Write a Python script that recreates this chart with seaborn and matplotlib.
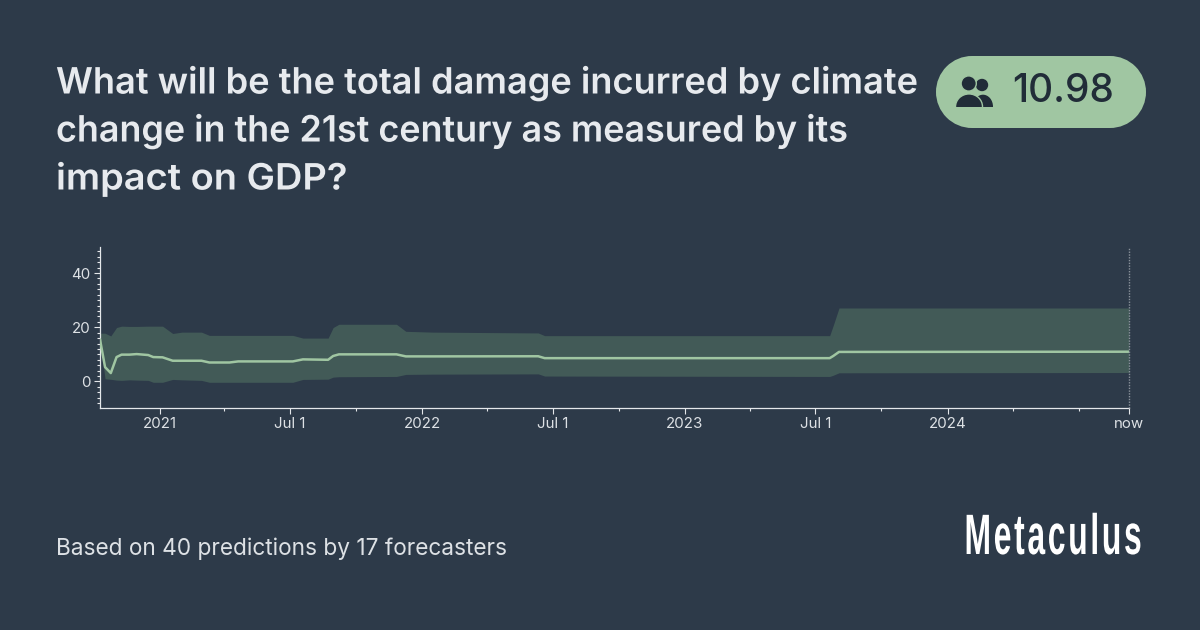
import matplotlib
matplotlib.use("Agg")
import matplotlib.pyplot as plt
import matplotlib.patheffects as pe
from matplotlib.patches import Circle, Ellipse, Rectangle
from matplotlib.ticker import MultipleLocator
from matplotlib.transforms import Affine2D
import pandas as pd
import seaborn as sns

TITLE = ["What will be the total damage incurred by climate",
         "change in the 21st century as measured by its",
         "impact on GDP?"]
FOOTER = "Based on 40 predictions by 17 forecasters"
BADGE = "10.98"
LOGO = "Metaculus"

dates = ["2020-10-10", "2020-10-17", "2020-10-25", "2020-11-02", "2020-11-09", "2020-11-20",
         "2020-11-30", "2020-12-16", "2020-12-23", "2021-01-05", "2021-01-19", "2021-02-01",
         "2021-02-28", "2021-03-11", "2021-04-08", "2021-04-20", "2021-07-05", "2021-07-19",
         "2021-08-23", "2021-08-30", "2021-09-07", "2021-11-26", "2021-12-09", "2022-01-15",
         "2022-06-11", "2022-06-20", "2023-07-21", "2023-07-26", "2023-08-03", "2024-09-09"]
median = [15.5, 5.3, 3.1, 9.0, 9.9, 9.9, 10.1, 9.75, 9.0, 8.9, 7.65, 7.65,
          7.65, 7.0, 7.0, 7.4, 7.4, 8.15, 8.0, 9.4, 10.0, 10.0, 9.25, 9.25,
          9.3, 8.6, 8.6, 9.4, 10.9, 10.98]
upper = [17.8, 17.8, 16.8, 19.9, 20.4, 20.3, 20.3, 20.4, 20.4, 20.4, 17.7, 18.2,
         18.2, 17.0, 17.0, 17.0, 17.0, 16.0, 16.0, 19.9, 21.1, 21.1, 18.5, 18.2,
         17.9, 16.9, 16.9, 20.7, 27.1, 27.1]
lower = [15.5, 1.0, 0.8, 0.5, 0.4, 0.6, 0.5, 0.4, -0.3, -0.3, 0.75, 0.6,
         0.4, -0.3, -0.3, -0.3, -0.3, 0.75, 0.85, 1.6, 1.75, 1.85, 2.6, 2.7,
         2.8, 2.0, 1.85, 2.3, 3.2, 3.3]

NOW = "2024-09-09"
START = "2020-10-10"
major_ticks = ["2021-01-01", "2021-07-01", "2022-01-01", "2022-07-01", "2023-01-01",
               "2023-07-01", "2024-01-01", "2024-09-09"]
major_labels = ["2021", "Jul 1", "2022", "Jul 1", "2023", "Jul 1", "2024", "now"]
minor_ticks = ["2021-04-01", "2021-10-01", "2022-04-01", "2022-10-01", "2023-04-01",
               "2023-10-01", "2024-04-01", "2024-07-01"]

BG = "#2D3A49"
GREEN = "#A0C6A2"
TXT = "#E7EAEE"
AXC = "#E4E7EA"
ICON = "#212C38"


class Squeeze(pe.AbstractPathEffect):
    """Scales text horizontally around a pivot, since the exact fonts are not installed."""

    def __init__(self, sx, x0):
        super().__init__()
        self.sx, self.x0 = sx, x0

    def draw_path(self, renderer, gc, tpath, affine, rgbFace=None):
        t = affine + Affine2D().translate(-self.x0, 0).scale(self.sx, 1).translate(self.x0, 0)
        renderer.draw_path(gc, tpath, t, rgbFace)


df = pd.DataFrame({"date": pd.to_datetime(dates), "median": median, "upper": upper, "lower": lower})

sns.set_theme(style="ticks", rc={"figure.facecolor": BG, "axes.facecolor": BG})
plt.rcParams["font.family"] = ["Inter", "DejaVu Sans"]

fig = plt.figure(figsize=(12, 6.3), dpi=100, facecolor=BG)
ax = fig.add_axes([100 / 1200, 1 - 407.5 / 630, 1029 / 1200, 160.5 / 630])
ax.set_facecolor(BG)
ax.fill_between(df["date"], df["lower"], df["upper"], color="#425A57", lw=0, zorder=1)
sns.lineplot(data=df, x="date", y="median", ax=ax, color=GREEN, lw=1.8, zorder=3, legend=False)
ax.set_xlabel("")
ax.set_ylabel("")
ax.set_xlim(pd.Timestamp(START), pd.Timestamp(NOW))
ax.set_ylim(-9.6, 49.6)

ax.set_xticks(pd.to_datetime(major_ticks))
ax.set_xticklabels(major_labels)
ax.set_xticks(pd.to_datetime(minor_ticks), minor=True)
ax.yaxis.set_major_locator(MultipleLocator(20))
ax.yaxis.set_minor_locator(MultipleLocator(2))
ax.tick_params(axis="both", which="major", length=4.2, width=0.8, color=AXC,
               labelcolor="#DDE1E5", labelsize=10.8, pad=2.5)
ax.tick_params(axis="both", which="minor", length=2, width=0.8, color=AXC)
for s in ("top", "right"):
    ax.spines[s].set_visible(False)
for s in ("left", "bottom"):
    ax.spines[s].set_color(AXC)
    ax.spines[s].set_linewidth(0.9)
ax.axvline(pd.Timestamp(NOW), color="#8A929B", lw=1, ls=(0, (1, 1)), clip_on=False, zorder=4)

ov = fig.add_axes([0, 0, 1, 1], facecolor="none")
ov.set_xlim(0, 1200)
ov.set_ylim(630, 0)
ov.axis("off")

for line, y, sx in zip(TITLE, (83, 131, 179), (0.998, 0.99, 1.047)):
    t = ov.text(56, y, line, fontsize=26.1, fontweight="semibold", color=TXT, va="center", ha="left")
    t.set_path_effects([Squeeze(sx, 56)])
ov.text(56, 549, FOOTER, fontsize=16.3, color="#DDE1E5", va="center", ha="left")

ov.add_patch(Rectangle((972, 56), 138, 72, fc=GREEN, ec="none"))
ov.add_patch(Circle((972, 92), 36, fc=GREEN, ec="none"))
ov.add_patch(Circle((1110, 92), 36, fc=GREEN, ec="none"))
ov.add_patch(Circle((982, 85), 6.2, fc=ICON, ec="none"))
ov.add_patch(Ellipse((983, 106.7), 20, 24, fc=ICON, ec="none"))
ov.add_patch(Circle((968.7, 83.5), 7.6, fc=ICON, ec=GREEN, lw=1))
ov.add_patch(Ellipse((969, 106.7), 27, 25.5, fc=ICON, ec=GREEN, lw=1))
ov.add_patch(Rectangle((954, 106.7), 44, 14, fc=GREEN, ec="none"))
ov.text(1063, 92, BADGE, fontsize=28, fontweight="medium", color="#212C38", va="center", ha="center")

logo = ov.text(1142, 539, "\u200a".join(LOGO), fontsize=41, color="#FFFFFF", va="center", ha="right",
               fontweight="bold", family=["Liberation Sans", "Inter"])
logo.set_path_effects([Squeeze(0.56, 1142)])

fig.savefig("out.png", dpi=100, facecolor=BG)
